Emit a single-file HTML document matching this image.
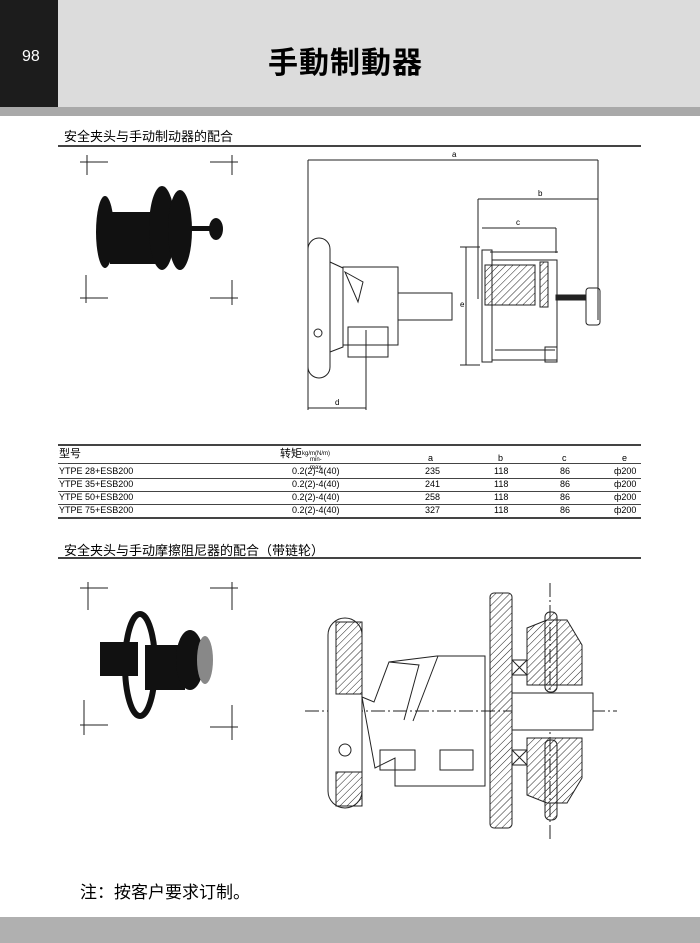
<!DOCTYPE html>
<html><head><meta charset="utf-8"><style>
body{margin:0;width:700px;height:943px;background:#fff;position:relative;overflow:hidden;font-family:"Liberation Sans","Noto Sans CJK SC",sans-serif}
.a{position:absolute}
</style></head><body>
<div class="a" style="left:0;top:0;width:58px;height:107px;background:#1c1c1c"></div>
<div class="a" style="left:58px;top:0;width:642px;height:107px;background:#dcdcdc"></div>
<div class="a" style="left:0;top:107px;width:700px;height:9px;background:#a9a9a9"></div>
<div class="a" style="left:22px;top:48px;color:#fff;font-size:16px">98</div>
<div class="a" style="left:268px;top:38px;font-size:30px;color:#000;letter-spacing:1px;font-weight:bold">手動制動器</div>
<div class="a" style="left:64px;top:126px;font-size:13px">安全夹头与手动制动器的配合</div>
<div class="a" style="left:58px;top:145px;width:583px;height:2px;background:#444"></div>
<div class="a" style="left:64px;top:540px;font-size:13px">安全夹头与手动摩擦阻尼器的配合（带链轮）</div>
<div class="a" style="left:58px;top:557px;width:583px;height:2px;background:#444"></div>
<div class="a" style="left:80px;top:878px;font-size:17px">注：按客户要求订制。</div>
<div class="a" style="left:0;top:917px;width:700px;height:26px;background:#b0b0b0"></div>

<!-- table -->
<div class="a" style="left:58px;top:444px;width:583px;height:2px;background:#444"></div>
<div class="a" style="left:58px;top:463px;width:583px;height:1px;background:#444"></div>
<div class="a" style="left:58px;top:478px;width:583px;height:1px;background:#444"></div>
<div class="a" style="left:58px;top:491px;width:583px;height:1px;background:#444"></div>
<div class="a" style="left:58px;top:504px;width:583px;height:1px;background:#444"></div>
<div class="a" style="left:58px;top:517px;width:583px;height:2px;background:#444"></div>
<div style="position:absolute;left:0;top:0;font-size:9px;line-height:13px">
<div class="a" style="left:59px;top:448px;font-size:11px;width:60px">型号</div>
<div class="a" style="left:280px;top:448px;font-size:11px;width:120px">转矩<span style="font-size:6px;vertical-align:top">kg/m(N/m)</span></div>
<div class="a" style="left:310px;top:456px;font-size:6px;line-height:8px">min-max</div>
<div class="a" style="left:428px;top:452px">a</div><div class="a" style="left:498px;top:452px">b</div><div class="a" style="left:562px;top:452px">c</div><div class="a" style="left:622px;top:452px">e</div>
<div class="a" style="left:59px;top:465px;width:200px">YTPE 28+ESB200<br>YTPE 35+ESB200<br>YTPE 50+ESB200<br>YTPE 75+ESB200</div>
<div class="a" style="left:292px;top:465px;width:100px">0.2(2)-4(40)<br>0.2(2)-4(40)<br>0.2(2)-4(40)<br>0.2(2)-4(40)</div>
<div class="a" style="left:425px;top:465px">235<br>241<br>258<br>327</div>
<div class="a" style="left:494px;top:465px">118<br>118<br>118<br>118</div>
<div class="a" style="left:560px;top:465px">86<br>86<br>86<br>86</div>
<div class="a" style="left:614px;top:465px">ф200<br>ф200<br>ф200<br>ф200</div>
</div>

<svg class="a" style="left:0;top:0" width="700" height="943">
<defs><pattern id="h" width="5" height="5" patternUnits="userSpaceOnUse" patternTransform="rotate(45)"><line x1="0" y1="0" x2="0" y2="5" stroke="#222" stroke-width="1"/></pattern></defs>
<g stroke="#222" stroke-width="1">
<path d="M80 162h28M87 155v20M210 162h28M232 155v20M80 298h28M86 275v28M210 298h28M232 280v25"/>
<path d="M80 588h28M88 582v28M210 588h28M232 582v28M80 725h28M84 700v35M210 727h28M232 705v35"/>
</g>
<!-- photo 1 -->
<g fill="#111">
<ellipse cx="105" cy="232" rx="9" ry="36"/>
<rect x="110" y="212" width="50" height="52"/>
<ellipse cx="162" cy="228" rx="13" ry="42"/>
<ellipse cx="180" cy="230" rx="12" ry="40"/>
<rect x="185" y="226" width="30" height="5"/>
<ellipse cx="216" cy="229" rx="7" ry="11"/>
</g>
<!-- photo 2 -->
<g fill="#111">
<ellipse cx="140" cy="665" rx="15" ry="51" fill="none" stroke="#111" stroke-width="6"/>
<rect x="100" y="642" width="38" height="34"/>
<rect x="145" y="645" width="40" height="45"/>
<ellipse cx="190" cy="660" rx="14" ry="30"/>
<ellipse cx="205" cy="660" rx="8" ry="24" fill="#888"/>
</g>
<g stroke="#222" stroke-width="1" fill="none">
<path d="M308 160H598M308 160v250M598 160v160M478 199H598M478 199v100M482 228H556M556 228v25M466 247v118M460 247h20M460 365h20M308 408H366M366 330v80"/>
<rect x="308" y="238" width="22" height="140" rx="11" fill="#fff"/>
<circle cx="318" cy="333" r="4"/>
<path d="M330 262L343 268V347L330 352"/>
<path d="M343 267h55v78h-55z M345 272l18 10l-5 20z"/>
<rect x="398" y="293" width="54" height="27"/>
<rect x="348" y="327" width="40" height="30"/>
<rect x="482" y="250" width="10" height="112"/>
<rect x="492" y="260" width="65" height="100"/>
<path d="M490 252h68M495 350h60"/>
<rect x="485" y="265" width="50" height="40" fill="url(#h)"/>
<rect x="540" y="262" width="8" height="45" fill="url(#h)"/>
<rect x="556" y="295" width="30" height="5" fill="#222"/>
<rect x="586" y="288" width="14" height="37" rx="3"/>
<rect x="545" y="347" width="12" height="15"/>
<path d="M305 711H617" stroke-dasharray="14 3 2 3"/>
<path d="M550 583V840" stroke-dasharray="14 3 2 3"/>
<rect x="328" y="618" width="34" height="190" rx="17" fill="#fff"/>
<rect x="336" y="622" width="26" height="72" fill="url(#h)"/>
<rect x="336" y="772" width="26" height="34" fill="url(#h)"/>
<path d="M362 697l12 5 15-40 48-6h48v130h-90v-28l-20 10z"/>
<path d="M389 662l30 3-15 55M438 656l-25 65"/>
<circle cx="345" cy="750" r="6"/>
<rect x="380" y="750" width="35" height="20"/><rect x="440" y="750" width="33" height="20"/>
<rect x="490" y="593" width="22" height="235" rx="4" fill="url(#h)"/>
<rect x="512" y="660" width="15" height="15"/><rect x="512" y="750" width="15" height="15"/>
<path d="M512 660l15 15M527 660l-15 15M512 750l15 15M527 750l-15 15"/>
<path d="M527 628l20-8h20l15 25v40h-55z" fill="url(#h)"/>
<path d="M527 738h55v40l-15 25h-20l-20-8z" fill="url(#h)"/>
<rect x="545" y="612" width="12" height="80" rx="5" fill="url(#h)"/>
<rect x="545" y="740" width="12" height="80" rx="5" fill="url(#h)"/>
<rect x="512" y="693" width="81" height="37" fill="#fff"/>
</g>
<text x="452" y="157" font-size="8" font-family="Liberation Sans">a</text>
<text x="538" y="196" font-size="8" font-family="Liberation Sans">b</text>
<text x="516" y="225" font-size="8" font-family="Liberation Sans">c</text>
<text x="460" y="307" font-size="8" font-family="Liberation Sans">e</text>
<text x="335" y="405" font-size="8" font-family="Liberation Sans">d</text>
</svg>
</body></html>
